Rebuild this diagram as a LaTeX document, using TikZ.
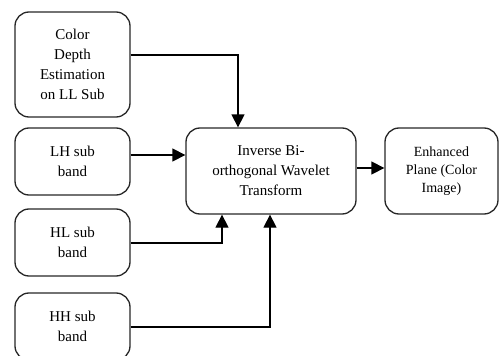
\documentclass[tikz,border=0pt]{standalone}
\usepackage{fontspec}
\setmainfont{Liberation Serif}
\usetikzlibrary{arrows.meta}
\begin{document}
\begin{tikzpicture}[x=1pt,y=-1pt,
  box/.style={draw=black!85,line width=1.3pt,rounded corners=14pt,align=center,
    inner sep=0pt,font=\fontsize{15}{20}\selectfont},
  conn/.style={line width=1.3pt,-{Triangle[length=13pt,width=13pt]}}]
\useasboundingbox (0,0) rectangle (499,356);
\clip (0,0) rectangle (499,356);
\node[box,minimum width=115pt,minimum height=105pt] (cd) at (72.5,64.5) {Color\\Depth\\Estimation\\on LL Sub};
\node[box,minimum width=115pt,minimum height=67pt] (lh) at (72.5,161.5) {LH sub\\band};
\node[box,minimum width=115pt,minimum height=67pt] (hl) at (72.5,242.5) {HL sub\\band};
\node[box,minimum width=115pt,minimum height=67pt] (hh) at (72.5,326.5) {HH sub\\band};
\node[box,minimum width=170pt,minimum height=86pt] (ib) at (271,171) {Inverse Bi-\\orthogonal Wavelet\\Transform};
\node[box,minimum width=113pt,minimum height=86pt,font=\fontsize{14}{18}\selectfont] (ep) at (441.5,171) {Enhanced\\Plane (Color\\Image)};
\coordinate (c0) at (0,155);
\coordinate (c1) at (238,55);
\coordinate (c2) at (222,243);
\coordinate (c3) at (270,327);
\coordinate (c4) at (0,168);
\draw[conn] (cd.east |- c1) -| (ib.north -| c1);
\draw[conn] (lh.east |- c0) -- (ib.west |- c0);
\draw[conn] (hl.east |- c2) -| (ib.south -| c2);
\draw[conn] (hh.east |- c3) -| (ib.south -| c3);
\draw[conn] (ib.east |- c4) -- (ep.west |- c4);
\end{tikzpicture}
\end{document}
